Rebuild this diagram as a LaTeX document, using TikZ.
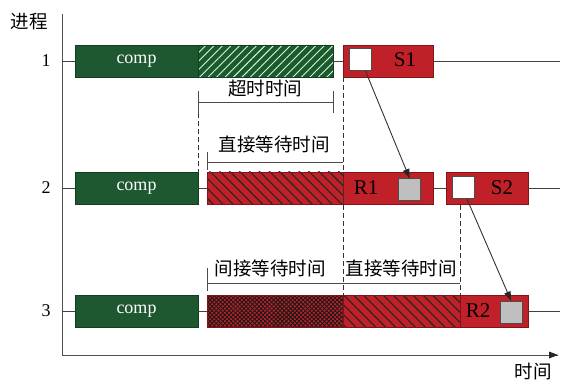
\documentclass[tikz,border=0pt]{standalone}
\usepackage{fontspec}
\setmainfont{Liberation Serif}
\newfontfamily\cjk{Noto Sans CJK SC}
\usetikzlibrary{patterns.meta,calc}
\definecolor{dgreen}{RGB}{30,88,48}
\definecolor{dgreenb}{RGB}{20,60,32}
\definecolor{myred}{RGB}{192,32,40}
\definecolor{myredb}{RGB}{130,20,25}
\definecolor{axisgray}{RGB}{80,80,80}
\tikzset{
  bar/.style={minimum height=32pt, inner sep=0pt, outer sep=0pt, line width=0.8pt},
  gbar/.style={bar, draw=dgreenb, fill=dgreen, text=white, font=\fontsize{18}{18}\selectfont},
  ghatch/.style={bar, draw=dgreenb, preaction={fill=dgreen}, pattern={Lines[angle=45,distance=6pt,line width=0.9pt]}, pattern color=green!20!white},
  rbar/.style={bar, draw=myredb, fill=myred},
  rhatch/.style={bar, draw=myredb, preaction={fill=myred}, pattern={Lines[angle=-45,distance=7pt,line width=1.1pt]}, pattern color=black!85},
  rcheck/.style={bar, draw=myredb, preaction={fill=myred}, pattern={Hatch[angle=45,distance=3pt,line width=0.9pt]}, pattern color=black!90},
  wsq/.style={minimum width=22pt, minimum height=22pt, inner sep=0pt, draw=black!70, line width=0.9pt, fill=white},
  gsq/.style={wsq, fill=black!25},
  lbl/.style={font=\fontsize{21}{21}\selectfont, text=black, inner sep=0pt},
  cn/.style={font=\cjk\fontsize{18.5}{18.5}\selectfont, inner sep=0pt},
  num/.style={font=\fontsize{18}{18}\selectfont, inner sep=0pt},
  ln/.style={draw=black!75, line width=0.8pt},
  dim/.style={draw=black!70, line width=0.9pt},
  dsh/.style={draw=black!80, line width=0.9pt, dash pattern=on 5pt off 3pt},
  msgline/.style={draw=black!80, line width=0.9pt},
  tip/.style={fill=black!85, draw=none}
}
\begin{document}
\begin{tikzpicture}[x=1pt,y=-1pt]
\useasboundingbox (0,0) rectangle (572,387);
% axes
\coordinate (O) at (62,355);
\coordinate (Ytop) at (62,14);
\coordinate (Xend) at (558,355);
\draw[draw=axisgray, line width=1pt] (Ytop) -- (O);
\draw[draw=axisgray, line width=1pt] (O) -- (Xend);
\fill[tip] (Xend) -- ++(-9,-3.5) -- ++(0,7) -- cycle;
\node[cn] (ylab) at (29,22) {进程};
\node[cn] (xlab) at (533,372) {时间};
\node[num] (n1) at (46,61) {1};
\node[num] (n2) at (46,188) {2};
\node[num] (n3) at (46,311) {3};
\coordinate (a1) at (62,61);
\coordinate (a2) at (62,188);
\coordinate (a3) at (62,311);
\coordinate (e1) at (560,61);
\coordinate (e2) at (560,188);
\coordinate (e3) at (560,311);

% row 1
\node[gbar, minimum width=123pt] (c1) at (136.5,61) {comp};
\node[ghatch, minimum width=135pt] (t1) at (265.5,61) {};
\node[rbar, minimum width=90pt] (S1) at (388,61) {};
\node[wsq] (w1) at (360,59.5) {};
\node[lbl] (s1l) at (405,60) {S1};

% row 2
\node[gbar, minimum width=123pt] (c2) at (136.5,188) {comp};
\node[rhatch, minimum width=136pt] (d2) at (275,188) {};
\node[rbar, minimum width=90pt] (R1) at (388,188) {};
\node[lbl] (r1l) at (366,188) {R1};
\node[gsq] (g1) at (409.5,189.5) {};
\node[rbar, minimum width=82pt] (S2) at (487,188) {};
\node[wsq] (w2) at (463.5,187.5) {};
\node[lbl] (s2l) at (502,188) {S2};

% row 3
\node[gbar, minimum width=123pt] (c3) at (136.5,311) {comp};
\node[rcheck, minimum width=136pt] (i3) at (275,311) {};
\node[rhatch, minimum width=117pt] (d3) at (401.5,311) {};
\node[rbar, minimum width=68pt] (R2) at (494,311) {};
\node[lbl] (r2l) at (478,311) {R2};
\node[gsq] (g2) at (511,312) {};

% horizontal process lines
\draw[ln] (a1) -- (c1.west);
\draw[ln] (t1.east) -- (S1.west);
\draw[ln] (S1.east) -- (e1);
\draw[ln] (a2) -- (c2.west);
\draw[ln] (c2.east) -- (d2.west);
\draw[ln] (R1.east) -- (S2.west);
\draw[ln] (S2.east) -- (e2);
\draw[ln] (a3) -- (c3.west);
\draw[ln] (c3.east) -- (i3.west);
\draw[ln] (R2.east) -- (e3);

% dimension: timeout
\coordinate (tL) at (198,102);
\coordinate (tR) at (333,102);
\draw[dim] (tL) -- (tR);
\draw[dim] (198,91) -- (198,113);
\draw[dim] (333,91) -- (333,113);
\node[cn] (tolab) at (265,88) {超时时间};

% dimension row 2
\coordinate (dL2) at (207,162);
\coordinate (dR2) at (343,162);
\draw[dim] (dL2) -- (dR2);
\draw[dim] (207,152) -- (207,170);
\node[cn] (dw2lab) at (274,144) {直接等待时间};

% dimension row 3
\coordinate (dL3) at (207,283);
\coordinate (dR3) at (460,283);
\draw[dim] (dL3) -- (dR3);
\draw[dim] (207,268) -- (207,291);
\node[cn] (iw3lab) at (270,268) {间接等待时间};
\node[cn] (dw3lab) at (401,268) {直接等待时间};

% dashed guides
\draw[dsh] (198,113) -- (198,172);
\draw[dsh] (343,77) -- (343,295);
\draw[dsh] (460,205) -- (460,295);

% messages (line + explicit arrow head)
\coordinate (m1s) at ([xshift=-6pt]w1.south east);
\coordinate (m2s) at ([xshift=-8pt]w2.south east);
\draw[msgline] (m1s) -- (g1.north);
\fill[tip] (g1.north) -- ($(g1.north)!9pt!(m1s)!3.5pt!90:(g1.north)$) -- ($(g1.north)!9pt!(m1s)!3.5pt!-90:(g1.north)$) -- cycle;
\draw[msgline] (m2s) -- (g2.north);
\fill[tip] (g2.north) -- ($(g2.north)!9pt!(m2s)!3.5pt!90:(g2.north)$) -- ($(g2.north)!9pt!(m2s)!3.5pt!-90:(g2.north)$) -- cycle;
\end{tikzpicture}
\end{document}
